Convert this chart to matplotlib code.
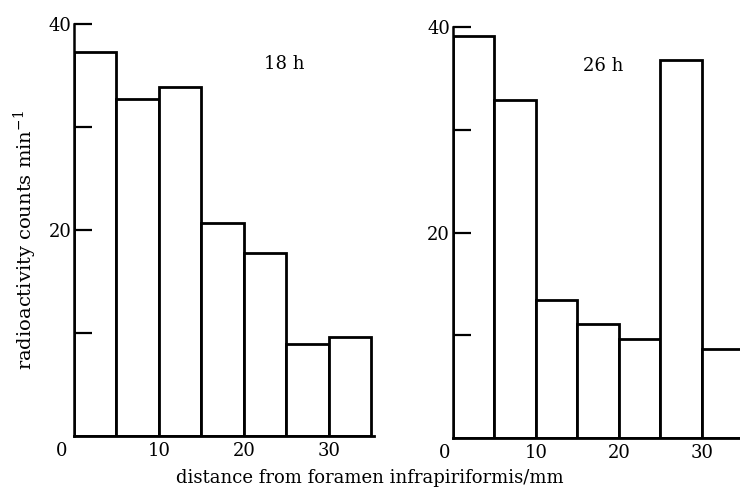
import matplotlib
matplotlib.use("Agg")
import matplotlib.pyplot as plt
import matplotlib.transforms as mtransforms

plt.rcParams["font.family"] = ["DejaVu Serif"]
plt.rcParams["mathtext.fontset"] = "dejavuserif"

# bin edges (mm from foramen infrapiriformis), 5 mm segments
bin_edges = [0, 5, 10, 15, 20, 25, 30, 35]

# radioactivity counts per minute in each segment
counts_18h = [37.3, 32.7, 33.9, 20.7, 17.8, 8.9, 9.6]
counts_26h = [39.1, 32.9, 13.4, 11.1, 9.6, 36.8, 8.7]

panel_labels = ["18 h", "26 h"]
x_ticks = [0, 10, 20, 30]
y_major = [20, 40]
y_minor = [10, 30]

FS = 13

fig = plt.figure(figsize=(7.4, 4.95), dpi=100)
ax_left = fig.add_axes([0.1, 0.119, 0.405, 0.832])
ax_right = fig.add_axes([0.612, 0.115, 0.388, 0.830])


def draw_panel(ax, counts, label, xmax, label_pos, zero_shift):
    lefts = bin_edges[:-1]
    widths = [b - a for a, b in zip(bin_edges[:-1], bin_edges[1:])]
    ax.bar(lefts, counts, width=widths, align="edge", facecolor="white",
           edgecolor="black", linewidth=2.0, clip_on=True)
    ax.set_xlim(0, xmax)
    ax.set_ylim(0, 40)
    for side in ("top", "right"):
        ax.spines[side].set_visible(False)
    ax.spines["left"].set_linewidth(1.8)
    ax.spines["bottom"].set_linewidth(2.0)

    ax.set_yticks(y_major)
    ax.set_yticks(y_minor, minor=True)
    ax.set_yticklabels([str(v) for v in y_major], fontsize=FS)
    ax.tick_params(axis="y", which="both", direction="in", length=13,
                   width=1.6, pad=2)

    ax.set_xticks(x_ticks)
    ax.set_xticklabels([str(v) for v in x_ticks], fontsize=FS)
    ax.tick_params(axis="x", length=0, pad=4)
    # the origin "0" sits at the corner, left of the y axis
    zero = ax.get_xticklabels()[0]
    zero.set_transform(zero.get_transform() +
                       mtransforms.ScaledTranslation(-zero_shift / 100, 0,
                                                     fig.dpi_scale_trans))

    ax.text(label_pos[0], label_pos[1], label, fontsize=FS, ha="center",
            va="center")


draw_panel(ax_left, counts_18h, panel_labels[0], 35.3, (24.8, 36.1), 12)
draw_panel(ax_right, counts_26h, panel_labels[1], 34.6, (18.1, 36.2), 8)

fig.text(0.034, 0.515, "radioactivity counts min$^{-1}$", rotation=90,
         fontsize=14, ha="center", va="center")
fig.text(0.5, 0.035, "distance from foramen infrapiriformis/mm",
         fontsize=FS, ha="center", va="center")

fig.savefig("out.png", dpi=100)
